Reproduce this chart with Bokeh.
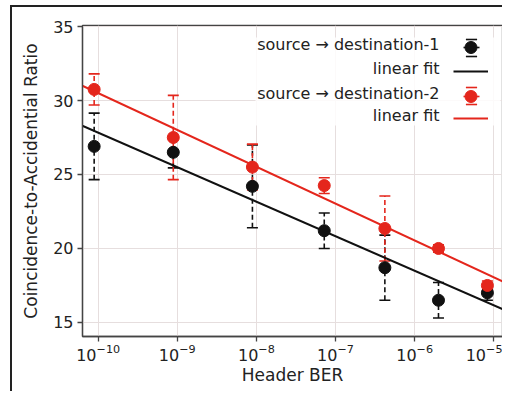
import numpy as np
from bokeh.plotting import figure
from bokeh.models import (ColumnDataSource, Whisker, TeeHead, FixedTicker, Range1d,
                          Legend, LegendItem, Label, BoxAnnotation)
from bokeh.embed import file_html
from bokeh.resources import INLINE

# ---- data ----
ber = [8.9e-11, 8.9e-10, 8.9e-9, 7.2e-8, 4.2e-7, 2.0e-6, 8.3e-6]
car1 = [26.9, 26.5, 24.2, 21.2, 18.7, 16.5, 17.0]
err1 = [2.25, 1.05, 2.8, 1.2, 2.2, 1.2, 0.5]
car2 = [30.75, 27.5, 25.5, 24.25, 21.35, 20.0, 17.5]
err2 = [1.05, 2.85, 1.55, 0.53, 2.2, 0.25, 0.3]
fit_ber = [6.3e-11, 1.29e-5]
fit1 = [28.3, 15.9]
fit2 = [31.0, 17.77]
xticks = [1e-10, 1e-9, 1e-8, 1e-7, 1e-6, 1e-5]
yticks = [15, 20, 25, 30, 35]
legend_labels = ["source \u2192 destination-1", "linear fit",
                 "source \u2192 destination-2", "linear fit"]

BLACK = "#111111"
RED = "#e4261c"
FONT = "DejaVu Sans"

p = figure(width=492, height=386, x_axis_type="log",
           x_range=Range1d(10 ** -10.198, 10 ** -4.89), y_range=Range1d(14.05, 35.07),
           output_backend="svg", toolbar_location=None,
           min_border_left=70, min_border_right=2, min_border_top=18, min_border_bottom=57)
p.styles = {"margin-left": "10px", "margin-top": "5px", "padding-bottom": "8px",
            "vertical-align": "top",
            "border-left": "2px solid #222222", "border-top": "2px solid #222222"}
p.background_fill_color = "white"
p.border_fill_color = "white"
p.outline_line_color = "#444444"
p.outline_line_width = 1.3

for ax in (p.xaxis, p.yaxis):
    ax.axis_line_color = "#444444"
    ax.axis_line_width = 1.3
    ax.major_tick_line_color = "#444444"
    ax.major_tick_line_width = 1.3
    ax.major_tick_out = 5
    ax.major_tick_in = 0
    ax.minor_tick_line_color = None
    ax.major_label_text_font = FONT
    ax.major_label_text_font_size = "16px"
    ax.major_label_text_color = "#222222"
    ax.axis_label_text_font = FONT
    ax.axis_label_text_font_size = "17px"
    ax.axis_label_text_font_style = "normal"
    ax.axis_label_text_color = "#222222"

p.xaxis.ticker = FixedTicker(ticks=xticks, minor_ticks=[])
p.yaxis.ticker = FixedTicker(ticks=yticks, minor_ticks=[])
p.xaxis.axis_label = "Header BER"
p.yaxis.axis_label = "Coincidence-to-Accidential Ratio"
p.xaxis.axis_label_standoff = 1
p.yaxis.axis_label_standoff = 9
p.xaxis.major_label_standoff = 2
p.yaxis.major_label_standoff = 4

p.xgrid.grid_line_color = "#e6dede"
p.ygrid.grid_line_color = "#e6dede"
p.xgrid.grid_line_width = 1
p.ygrid.grid_line_width = 1

src1 = ColumnDataSource(dict(x=ber, y=car1,
                             lo=[c - e for c, e in zip(car1, err1)],
                             hi=[c + e for c, e in zip(car1, err1)]))
src2 = ColumnDataSource(dict(x=ber, y=car2,
                             lo=[c - e for c, e in zip(car2, err2)],
                             hi=[c + e for c, e in zip(car2, err2)]))

def whisker(src, color):
    w = Whisker(source=src, base="x", upper="hi", lower="lo", dimension="height",
                line_color=color, line_width=1.6, line_dash="5 3",
                upper_head=TeeHead(size=11, line_color=color, line_width=1.6),
                lower_head=TeeHead(size=11, line_color=color, line_width=1.6))
    p.add_layout(w)

whisker(src1, BLACK)
r_pts1 = p.scatter("x", "y", source=src1, size=12, fill_color=BLACK, line_color=BLACK)
r_fit1 = p.line(fit_ber, fit1, line_color=BLACK, line_width=2)
whisker(src2, RED)
r_pts2 = p.scatter("x", "y", source=src2, size=12, fill_color=RED, line_color=RED)
r_fit2 = p.line(fit_ber, fit2, line_color=RED, line_width=2)

# legend-only handles for the error bar symbol (no data points of their own)
empty = dict(x=[np.nan], y=[np.nan])
def handle(color, angle):
    return p.scatter(x="x", y="y", source=ColumnDataSource(empty), marker="dash",
                     angle=angle, line_color=color, line_width=1.6)
stem1, cap1 = handle(BLACK, np.pi / 2), handle(BLACK, 0)
stem2, cap2 = handle(RED, np.pi / 2), handle(RED, 0)

# legend background box (frame-relative screen units)
p.add_layout(BoxAnnotation(left=173, right=418, top=299, bottom=211,
                           left_units="screen", right_units="screen",
                           top_units="screen", bottom_units="screen",
                           fill_color="white", fill_alpha=0.85, line_color=None))

def legend_glyph(r, vx, vy, gw, gh):
    p.add_layout(Legend(items=[LegendItem(label=" ", renderers=[r])],
                        location=(vx, vy), margin=0, padding=0, spacing=0,
                        glyph_width=gw, glyph_height=gh, label_height=gh, label_width=0,
                        label_standoff=0, label_text_font_size="1px",
                        background_fill_alpha=0, border_line_color=None))

# error-bar symbols: stem, caps, marker
legend_glyph(stem1, 368.5, 269, 40, 40)
legend_glyph(cap1, 374.5, 283.5, 28, 28)
legend_glyph(cap1, 374.5, 266.5, 28, 28)
legend_glyph(r_pts1, 371, 274, 35, 30)
legend_glyph(r_fit1, 371, 250.3, 35, 30)
legend_glyph(stem2, 368.5, 220.3, 40, 40)
legend_glyph(cap2, 374.5, 234.8, 28, 28)
legend_glyph(cap2, 374.5, 217.8, 28, 28)
legend_glyph(r_pts2, 371, 225.3, 35, 30)
legend_glyph(r_fit2, 371, 202.7, 35, 30)

row_y = [292, 268.3, 243.3, 220.7]
for txt, yy in zip(legend_labels, row_y):
    p.add_layout(Label(x=357, y=yy, x_units="screen", y_units="screen", text=txt,
                       text_align="right", text_baseline="middle",
                       text_font=FONT, text_font_size="16px", text_color="#222222"))

open("out.html", "w").write(file_html(p, INLINE))
